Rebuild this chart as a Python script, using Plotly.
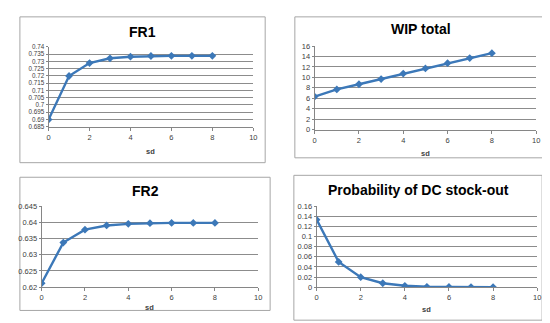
import plotly.graph_objects as go

sd = [0, 1, 2, 3, 4, 5, 6, 7, 8]
fr1 = [0.6899, 0.7200, 0.7289, 0.7322, 0.7333, 0.7338, 0.7339, 0.7339, 0.7339]
wip = [6.33, 7.69, 8.68, 9.67, 10.73, 11.72, 12.71, 13.70, 14.64]
fr2 = [0.6212, 0.6338, 0.6378, 0.6391, 0.6396, 0.6398, 0.6399, 0.6399, 0.6399]
prob = [0.1338, 0.0499, 0.0198, 0.0077, 0.0026, 0.0006, 0.0002, 0.0001, 0.0]

titles = ["FR1", "WIP total", "FR2", "Probability of DC stock-out"]
series = [fr1, wip, fr2, prob]
yranges = [[0.685, 0.74], [0, 16], [0.62, 0.645], [0, 0.16]]
ydtick = [0.005, 2, 0.005, 0.02]
ytickfont = [6.3, 7.5, 7.5, 7.5]

W, H = 550, 323
# plot areas in pixels: x0, x1, y0(top), y1(bottom)
areas = [(39, 246, 36, 118), (308, 532, 35, 121), (32, 251, 200, 283), (310, 533, 200, 283)]
boxes = [(10, 258, 5, 155), (288, 544, 5, 150), (10, 263, 170, 307), (287, 538, 168, 317)]
title_y = [21, 18, 184, 183]
sd_y = [144, 146, 304, 306]

line_color = "#3C78B8"
fig = go.Figure()
layout = dict(width=W, height=H, margin=dict(l=0, r=0, t=0, b=0),
              paper_bgcolor="white", plot_bgcolor="white", showlegend=False,
              font=dict(family="Liberation Sans, Arial, sans-serif", color="#404040"))
shapes = []
annotations = []
for i in range(4):
    n = "" if i == 0 else str(i + 1)
    x0, x1, yt, yb = areas[i]
    fig.add_trace(go.Scatter(x=sd, y=series[i], mode="lines+markers",
                             xaxis="x" + n, yaxis="y" + n,
                             line=dict(color=line_color, width=2.4),
                             marker=dict(symbol="diamond", size=6, color=line_color)))
    layout["xaxis" + n] = dict(domain=[x0 / W, x1 / W], range=[0, 10], dtick=2, tick0=0,
                               showgrid=False, zeroline=False, showline=True,
                               linecolor="#868686", linewidth=1, ticks="outside",
                               ticklen=3, tickcolor="#868686",
                               tickfont=dict(size=7.5, color="#404040"),
                               anchor="y" + n)
    layout["yaxis" + n] = dict(domain=[1 - yb / H, 1 - yt / H], range=yranges[i],
                               dtick=ydtick[i], tick0=0, showgrid=True,
                               gridcolor="#8C8C8C", gridwidth=1, zeroline=False,
                               showline=True, linecolor="#868686", linewidth=1,
                               ticks="outside", ticklen=2, tickcolor="#868686",
                               tickfont=dict(size=ytickfont[i], color="#404040"),
                               anchor="x" + n)
    bx0, bx1, by0, by1 = boxes[i]
    shapes.append(dict(type="rect", xref="paper", yref="paper",
                       x0=bx0 / W, x1=bx1 / W, y0=1 - by1 / H, y1=1 - by0 / H,
                       line=dict(color="#A6A6A6", width=1), layer="below"))
    annotations.append(dict(text="<b>" + titles[i] + "</b>", xref="paper", yref="paper",
                            x=(bx0 + bx1) / 2 / W, y=1 - title_y[i] / H,
                            showarrow=False, font=dict(size=14, color="#000000"),
                            xanchor="center", yanchor="middle"))
    annotations.append(dict(text="<b>sd</b>", xref="paper", yref="paper",
                            x=(x0 + x1) / 2 / W, y=1 - sd_y[i] / H,
                            showarrow=False, font=dict(size=7.5, color="#404040"),
                            xanchor="center", yanchor="middle"))
layout["shapes"] = shapes
layout["annotations"] = annotations
fig.update_layout(**layout)
fig.write_html("out.html")
